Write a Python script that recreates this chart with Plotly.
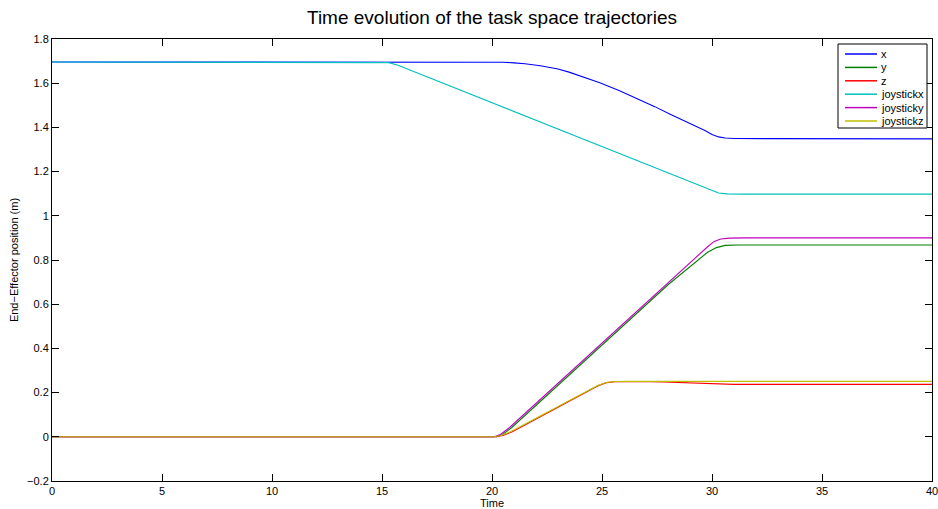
import plotly.graph_objects as go

# ---- data ----
x_t = [0, 20.0, 20.5, 21.0, 21.5, 22.2, 23.0, 23.5, 24.2, 24.9, 25.8, 26.7, 27.4, 28.1, 28.8, 29.3, 29.7, 30.0, 30.3, 30.6, 31.0, 32.5, 40]
x_v = [1.696, 1.696, 1.695, 1.692, 1.688, 1.679, 1.664, 1.650, 1.627, 1.602, 1.566, 1.526, 1.494, 1.460, 1.428, 1.405, 1.385, 1.368, 1.357, 1.352, 1.350, 1.349, 1.348]

y_t = [0, 20.2, 20.5, 20.9, 28.0, 29.0, 29.8, 30.2, 30.6, 31.2, 40]
y_v = [0, 0, 0.012, 0.042, 0.688, 0.772, 0.835, 0.856, 0.866, 0.868, 0.868]

z_t = [0, 20.2, 20.5, 20.9, 24.8, 25.2, 25.6, 26.5, 27.8, 28.8, 29.6, 30.2, 31.0, 40]
z_v = [0, 0, 0.006, 0.022, 0.230, 0.245, 0.249, 0.250, 0.248, 0.245, 0.241, 0.238, 0.237, 0.237]

jx_t = [0, 15.0, 15.3, 15.7, 29.0, 30.0, 30.3, 30.7, 31.5, 40]
jx_v = [1.696, 1.696, 1.693, 1.682, 1.154, 1.112, 1.103, 1.099, 1.098, 1.098]

jy_t = [0, 20.1, 20.4, 20.8, 29.8, 30.1, 30.4, 30.8, 31.5, 40]
jy_v = [0, 0, 0.012, 0.042, 0.860, 0.884, 0.895, 0.899, 0.900, 0.900]

jz_t = [0, 20.1, 20.4, 20.8, 24.8, 25.2, 25.6, 26.2, 40]
jz_v = [0, 0, 0.006, 0.021, 0.232, 0.246, 0.250, 0.251, 0.251]

series_names = ["x", "y", "z", "joystickx", "joysticky", "joystickz"]
series_t = [x_t, y_t, z_t, jx_t, jy_t, jz_t]
series_v = [x_v, y_v, z_v, jx_v, jy_v, jz_v]
series_colors = ["#0000FF", "#008000", "#FF0000", "#00BFBF", "#BF00BF", "#BFBF00"]

x_ticks = [0, 5, 10, 15, 20, 25, 30, 35, 40]
y_ticks = [-0.2, 0, 0.2, 0.4, 0.6, 0.8, 1, 1.2, 1.4, 1.6, 1.8]
y_tick_text = ["\u22120.2", "0", "0.2", "0.4", "0.6", "0.8", "1", "1.2", "1.4", "1.6", "1.8"]

W, H = 938, 509
ML, MR, MT, MB = 52, 6, 39, 28
PW, PH = W - ML - MR, H - MT - MB


def px_x(p):
    return (p - ML) / PW


def px_y(p):
    return (H - MB - p) / PH


FONT = "Liberation Sans, Arial, Helvetica, sans-serif"

fig = go.Figure()
for name, t, v, c in zip(series_names, series_t, series_v, series_colors):
    fig.add_trace(go.Scatter(x=t, y=v, mode="lines", name=name,
                             line=dict(color=c, width=1.1), showlegend=False))

# MATLAB-style boxed legend (compact rows)
shapes = [dict(type="rect", xref="paper", yref="paper",
               x0=px_x(838), x1=px_x(927), y0=px_y(128), y1=px_y(44),
               line=dict(color="black", width=1), fillcolor="white", layer="above")]
annotations = []
for i, (name, c) in enumerate(zip(series_names, series_colors)):
    yy = px_y(54 + i * 13.4)
    shapes.append(dict(type="line", xref="paper", yref="paper",
                       x0=px_x(845), x1=px_x(877), y0=yy, y1=yy,
                       line=dict(color=c, width=1.5), layer="above"))
    annotations.append(dict(text=name, xref="paper", yref="paper",
                            x=px_x(879), y=yy, xanchor="left", yanchor="middle",
                            showarrow=False, font=dict(size=11, family=FONT, color="black")))

fig.update_layout(
    width=W, height=H,
    margin=dict(l=ML, r=MR, t=MT, b=MB),
    paper_bgcolor="white", plot_bgcolor="white",
    font=dict(family=FONT, size=11, color="black"),
    title=dict(text="Time evolution of the task space trajectories",
               x=0.5, xref="paper", xanchor="center",
               y=1 - 17 / H, yref="container", yanchor="middle",
               font=dict(size=19, family=FONT, color="black")),
    showlegend=False,
    shapes=shapes,
    annotations=annotations,
)
fig.update_xaxes(range=[0, 40], tickvals=x_ticks, ticks="inside", ticklen=7,
                 tickcolor="black", showline=True, linecolor="black", linewidth=1,
                 mirror="ticks", showgrid=False, zeroline=False, automargin=False,
                 ticklabeloverflow="allow",
                 title=dict(text="Time", standoff=0, font=dict(size=11)))
fig.update_yaxes(range=[-0.2, 1.8], tickvals=y_ticks, ticktext=y_tick_text,
                 ticks="inside", ticklen=7, tickcolor="black",
                 showline=True, linecolor="black", linewidth=1,
                 mirror="ticks", showgrid=False, zeroline=False, automargin=False,
                 ticklabeloverflow="allow",
                 title=dict(text="End\u2212Effector position (m)", standoff=6,
                            font=dict(size=11)))

fig.write_html(
    "out.html",
    config={"displayModeBar": False},
    post_script="document.body.style.margin='0';document.body.style.overflow='hidden';",
)
